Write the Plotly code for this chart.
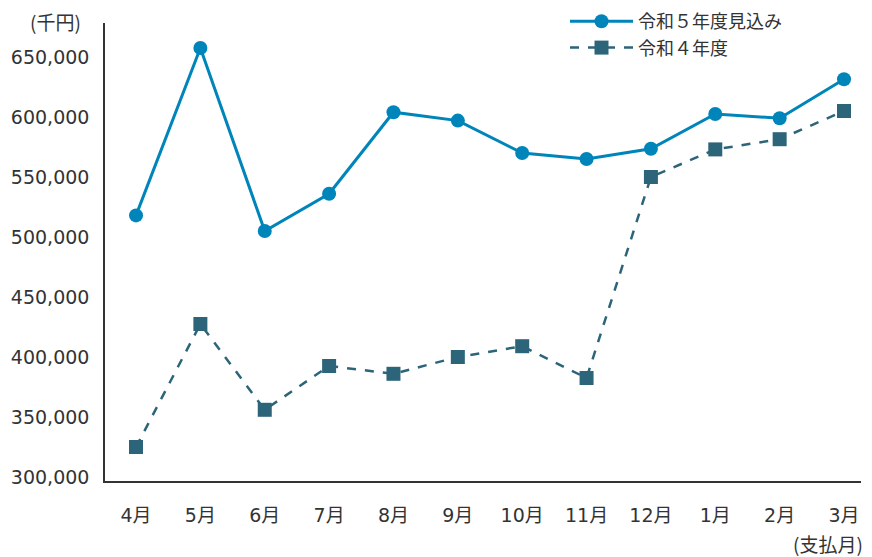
import plotly.graph_objects as go

months = ["4月", "5月", "6月", "7月", "8月", "9月", "10月", "11月", "12月", "1月", "2月", "3月"]
r5_values = [518000, 657500, 505000, 536000, 604000, 597000, 570000, 565000, 573500, 602500, 599000, 631500]
r4_values = [325000, 427500, 356000, 392500, 386000, 400000, 409000, 382500, 550000, 573000, 581500, 605000]
y_ticks = [300000, 350000, 400000, 450000, 500000, 550000, 600000, 650000]
y_tick_labels = ["300,000", "350,000", "400,000", "450,000", "500,000", "550,000", "600,000", "650,000"]
series_names = ["令和５年度見込み", "令和４年度"]

# page body has an 8px margin, so the figure is drawn 8px smaller and offset
OFF = 8
W, H = 872 - OFF, 557 - OFF
ML, MR, MT, MB = 105 - OFF, 11, 23 - OFF, 76
PW, PH = W - ML - MR, H - MT - MB

NUM_FONT = "DejaVu Sans, Noto Sans CJK JP"
JP_FONT = "Noto Sans CJK JP"
TXT = "#333333"
x_idx = list(range(len(months)))


def px_to_paper(px, py):
    # px, py given in screenshot pixels
    return (px - OFF - ML) / PW, 1 - (py - OFF - MT) / PH


fig = go.Figure()
fig.add_trace(go.Scatter(
    x=x_idx, y=r5_values, name=series_names[0], mode="lines+markers",
    legendgroup="a",
    line=dict(color="#0085BA", width=3),
    marker=dict(symbol="circle", size=14, color="#0085BA"),
))
fig.add_trace(go.Scatter(
    x=x_idx, y=r4_values, name=series_names[1], mode="lines+markers",
    legendgroup="b",
    line=dict(color="#2C6479", width=2.5, dash="dash"),
    marker=dict(symbol="square", size=14, color="#2C6479"),
))

leg_x, leg_y = px_to_paper(565, OFF - 5)

fig.update_layout(
    width=W, height=H,
    margin=dict(l=ML, r=MR, t=MT, b=MB, autoexpand=False),
    paper_bgcolor="white", plot_bgcolor="white",
    font=dict(family=NUM_FONT, size=19, color=TXT),
    showlegend=True,
    legend=dict(
        x=leg_x, y=leg_y, xanchor="left", yanchor="top",
        bgcolor="rgba(0,0,0,0)", itemwidth=63,
        font=dict(family=JP_FONT, size=18, color=TXT),
        traceorder="grouped", tracegroupgap=0, itemsizing="trace",
    ),
    xaxis=dict(
        range=[-0.482, 11.264], tickmode="array", tickvals=x_idx, ticktext=months,
        showgrid=False, zeroline=False, showline=True, linecolor="#333333", linewidth=1.5,
        ticks="outside", ticklen=16, tickcolor="rgba(0,0,0,0)",
        tickfont=dict(family=NUM_FONT, size=19, color=TXT),
    ),
    yaxis=dict(
        range=[296667, 678333], tickmode="array", tickvals=y_ticks, ticktext=y_tick_labels,
        showgrid=False, zeroline=False, showline=True, linecolor="#333333", linewidth=1.5,
        ticks="outside", ticklen=10, tickcolor="rgba(0,0,0,0)",
        tickfont=dict(family=NUM_FONT, size=19, color=TXT),
    ),
)

for text, px, py in [("(千円)", 55, 21), ("(支払月)", 828, 543)]:
    ax, ay = px_to_paper(px, py)
    fig.add_annotation(text=text, x=ax, y=ay, xref="paper", yref="paper",
                       showarrow=False, xanchor="center", yanchor="middle",
                       borderpad=0,
                       font=dict(family=JP_FONT, size=19, color=TXT))

fig.write_html("out.html")
